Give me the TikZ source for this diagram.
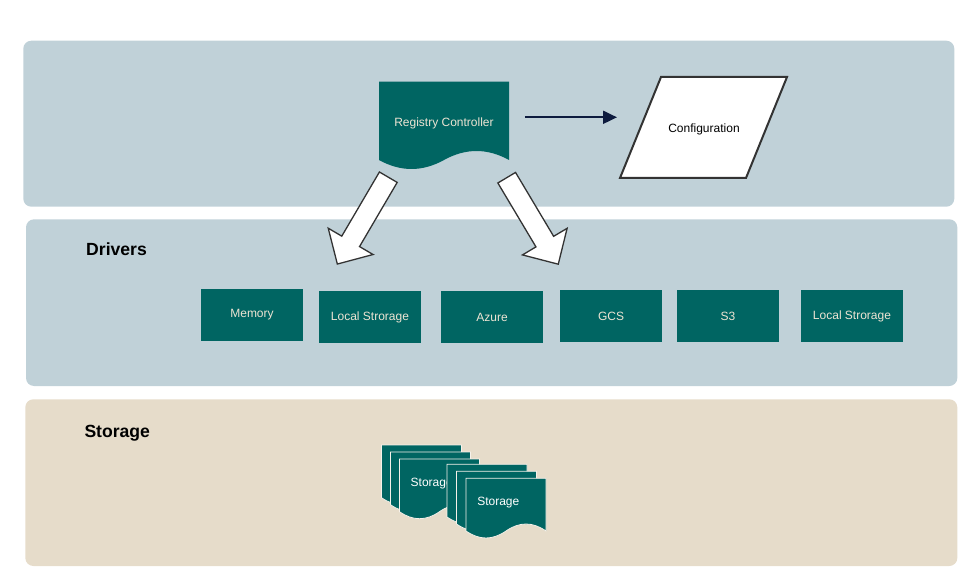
\documentclass[tikz,border=0pt]{standalone}
\usepackage{fontspec}
\setmainfont{Liberation Sans}
\usetikzlibrary{arrows.meta}
\definecolor{layerblue}{HTML}{C0D1D8}
\definecolor{layersand}{HTML}{E6DCCA}
\definecolor{drvteal}{HTML}{006562}
\definecolor{drvtext}{HTML}{EDE4D3}
\definecolor{flownavy}{HTML}{0D1B3E}
\definecolor{edgegrey}{HTML}{333333}
\tikzset{
  drv/.style={rectangle,fill=drvteal,text=drvtext,minimum width=102pt,minimum height=51.5pt,inner sep=0pt,font=\fontsize{12}{14}\selectfont},
  lbl/.style={inner sep=0pt,font=\fontsize{12}{14}\selectfont},
  layertitle/.style={inner sep=0pt,anchor=base west,font=\bfseries\fontsize{17.6}{20}\selectfont},
  blockarrow/.style={draw=edgegrey,fill=white,line width=1.3pt},
  flowarrow/.style={draw=flownavy,line width=2pt,-{Triangle[length=14pt,width=13pt]}},
  storepage/.style={fill=drvteal,draw=layersand!40!white,line width=0.8pt},
}
% page with wavy bottom: style, x, y (top left), width, edge depth, wave
\newcommand{\docpage}[6]{%
  \path[#1] (#2,#3) -- ++(#4,0) -- ++(0,#5)
    .. controls +({-#4/6},{-2*#6/3}) and +({#4/6},{-2*#6/3}) .. ++({-#4/2},0)
    .. controls +({-#4/6},{2*#6/3}) and +({#4/6},{2*#6/3}) .. ++({-#4/2},0) -- cycle;}
\begin{document}
\begin{tikzpicture}[x=1pt,y=-1pt]
    \useasboundingbox (0,0) rectangle (977,585);
    \fill[layerblue,rounded corners=8pt] (23.3,40.7) rectangle (954.3,206.7);
    \fill[layerblue,rounded corners=8pt] (26,219.3) rectangle (957.3,386);
    \fill[layersand,rounded corners=8pt] (25.3,399.3) rectangle (957.3,566);

    \node[layertitle] (drvtitle) at (86,255.7) {Drivers};
    \node[layertitle] (sttitle) at (84.3,437) {Storage};

    \docpage{fill=drvteal}{379}{81.7}{130}{78.3}{18}
    \node[lbl,text=drvtext] (reg) at (444,123) {Registry Controller};

    \draw[edgegrey,line width=2pt,fill=white] (661,77) -- (787,77) -- (746,178) -- (620,178) -- cycle;
    \node[lbl] (cfg) at (704,129.5) {Configuration};

    \coordinate (cfgin) at (617,117.3);
    \draw[flowarrow] (reg.east |- cfgin) ++(31,0) -- (cfgin);

    \coordinate (tailL) at (388.3,177.2);
    \coordinate (tailR) at (506.7,177.7);
    \foreach \t/\r in {tailL/-120.4,tailR/-59.2} {
        \begin{scope}[shift={(\t)},rotate=\r]
            \draw[blockarrow] (0,10.3) -- (74.4,10.3) -- (74.4,26) -- (100.7,0) -- (74.4,-26) -- (74.4,-10.3) -- (0,-10.3) -- cycle;
        \end{scope}
    }

    \node[drv] (mem) at (252,315) {Memory};
    \node[drv] (local) at (370,317) {Local Strorage};
    \node[drv] (azure) at (492,317) {Azure};
    \node[drv] (gcs) at (611,316) {GCS};
    \node[drv] (s3) at (728,316) {S3};
    \node[drv] (local2) at (852,316) {Local Strorage};

    \foreach \px/\py in {381.5/445,390.5/452,399.5/459} {\docpage{storepage}{\px}{\py}{80}{52.7}{14}}
    \node[lbl,text=white] (store1) at (431.7,483.5) {Storage};
    \foreach \px/\py in {447/464.3,456.5/471.3,466/478.3} {\docpage{storepage}{\px}{\py}{80}{52.7}{14}}
    \node[lbl,text=white] (store2) at (498.3,502.9) {Storage};
    %~ \draw[flowarrow] (local) -- (store1);
\end{tikzpicture}
\end{document}
